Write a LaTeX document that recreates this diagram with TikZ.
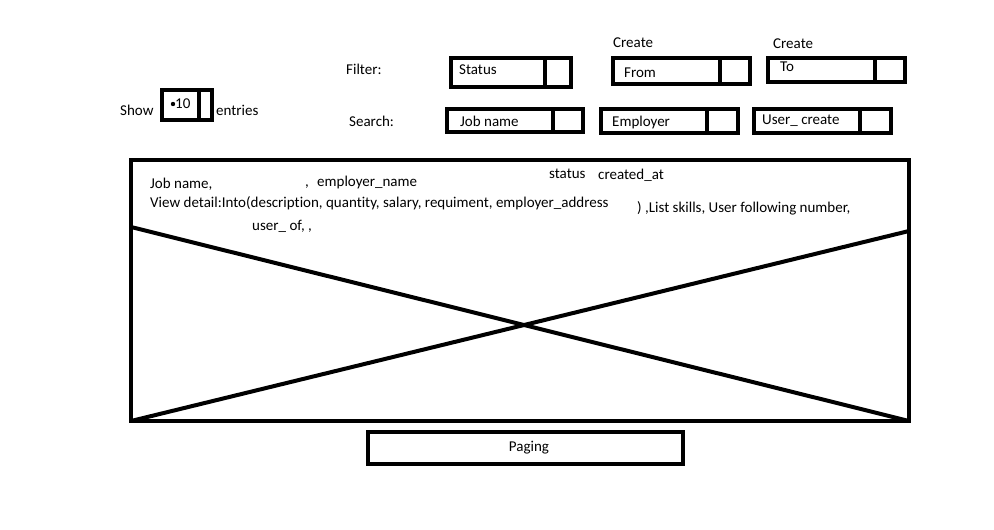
\documentclass[tikz,border=0pt]{standalone}
\usepackage{fontspec}
\setmainfont[Ligatures=NoCommon]{Carlito}
\usetikzlibrary{positioning}

\begin{document}
\begin{tikzpicture}[x=1pt,y=-1pt,
    frame/.style={draw,line width=4pt},
    lbl/.style={anchor=west,inner sep=0pt,font=\fontsize{15}{17}\selectfont}]
    \useasboundingbox (0,0) rectangle (994,530);
    % show entries
    \node[lbl] (show) at (120,110) {Show};
    \draw[frame] (162,90) rectangle (212,120);
    \draw[frame] (199,90) -- (199,120);
    \fill (173,104) circle (2.2);
    \node[lbl] (num) at (175,104) {10};
    \node[lbl] (entries) at (216,110) {entries};
    % filter row
    \node[lbl] (filter) at (346,69) {Filter:};
    \draw[frame] (451,58) rectangle (571,87);
    \draw[frame] (545,58) -- (545,87);
    \node[lbl] (status) at (459,70) {Status};
    \node[lbl] (createfrom) at (613,43) {Create};
    \draw[frame] (613,58) rectangle (750,84);
    \draw[frame] (720,58) -- (720,84);
    \node[lbl] (from) at (624,73) {From};
    \node[lbl] (createto) at (773,44) {Create};
    \draw[frame] (768,58) rectangle (905,82);
    \draw[frame] (875,58) -- (875,82);
    \node[lbl] (to) at (780,67) {To};
    % search row
    \node[lbl] (search) at (349,121) {Search:};
    \draw[frame] (447,109) rectangle (583,132);
    \draw[frame] (553,109) -- (553,132);
    \node[lbl] (jobname) at (460,121) {Job name};
    \draw[frame] (601,109) rectangle (738,133);
    \draw[frame] (707,109) -- (707,133);
    \node[lbl] (employer) at (612,122) {Employer};
    \draw[frame] (754,109) rectangle (891,133);
    \draw[frame] (860,109) -- (860,133);
    \node[lbl] (usercreate) at (762,121) {User\_ create};
    % list area
    \draw[frame] (131,160) rectangle (909,421);
    \draw[line width=4pt] (131,227) -- (909,421);
    \draw[line width=4pt] (909,231) -- (131,421);
    \node[lbl] (colname) at (150,184) {Job name,};
    \node[lbl,anchor=base west] (comma) at (305,186) {,};
    \node[lbl] (colemp) at (317,182) {employer\_name};
    \node[lbl] (colstatus) at (549,174) {status};
    \node[lbl] (colcreated) at (598,175) {created\_at};
    \node[lbl] (detail) at (150,203) {View detail:Into(description, quantity, salary, requiment, employer\_address};
    \node[lbl] (detailend) at (637,208) {) ,List skills, User following number,};
    \node[lbl] (userof) at (252,226) {user\_ of, ,};
    % paging
    \draw[frame] (368,432) rectangle (683,464);
    \node[font=\fontsize{15}{17}\selectfont] (paging) at (529,448) {Paging};
\end{tikzpicture}
\end{document}
